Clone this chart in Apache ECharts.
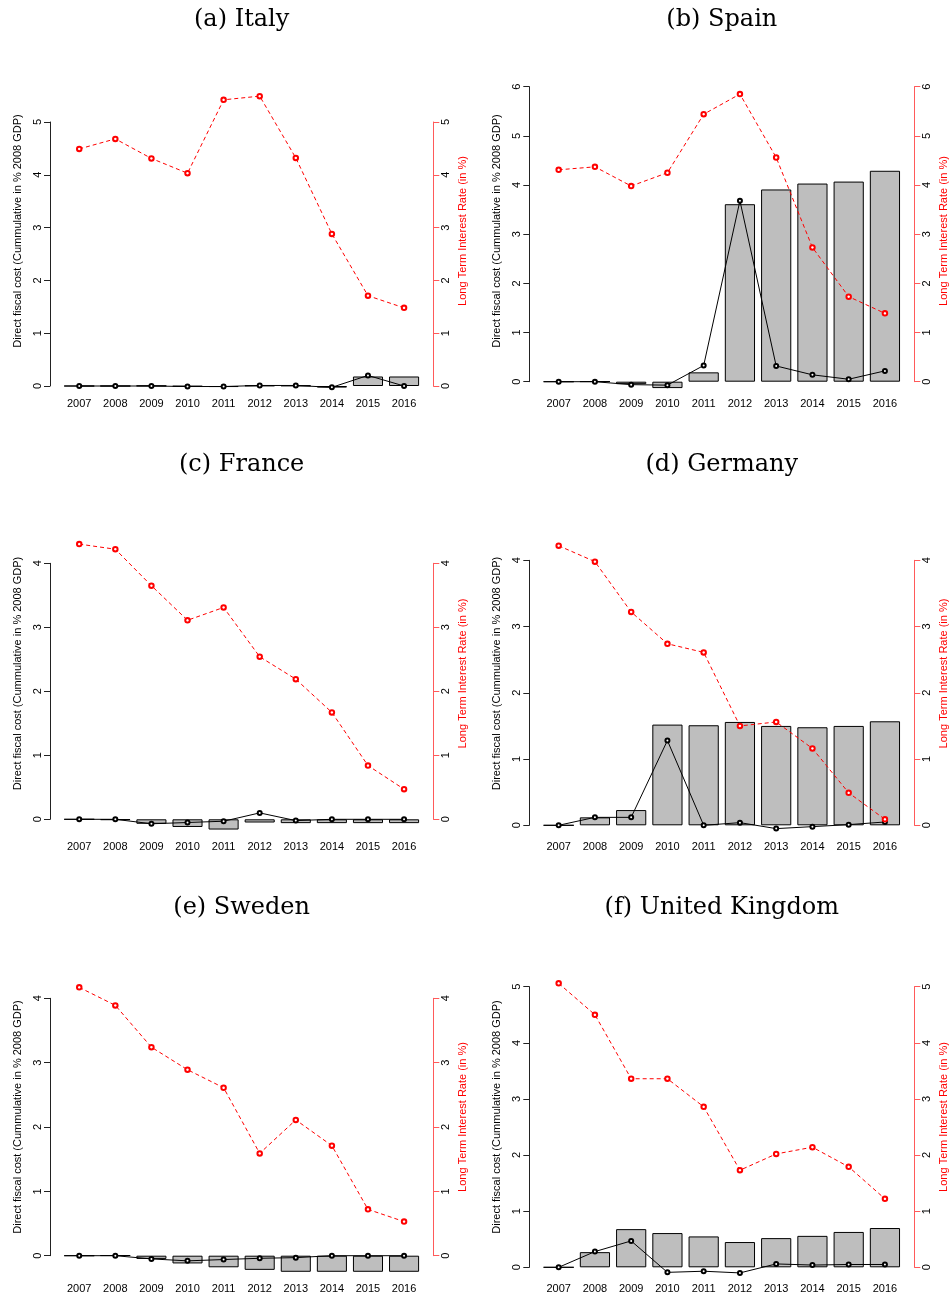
<!DOCTYPE html>
<html>
<head>
<meta charset="utf-8">
<script src="https://cdn.jsdelivr.net/npm/echarts@6/dist/echarts.min.js"></script>
<style>
  html, body { margin: 0; padding: 0; background: #ffffff; }
  #chart { width: 949px; height: 1297px; }
</style>
</head>
<body>
<div id="chart"></div>
<script>
// Years on the category axis
const years = ['2007', '2008', '2009', '2010', '2011', '2012', '2013', '2014', '2015', '2016'];

// Panel titles
const panelTitles = ['(a) Italy', '(b) Spain', '(c) France', '(d) Germany', '(e) Sweden', '(f) United Kingdom'];

// Highest tick on both vertical axes of each panel
const axisTop = [5, 6, 4, 4, 4, 5];

// Cumulative direct fiscal cost (bars), yearly cost (black line), long term rate (red line)
const italyCost   = [0, 0, 0.005, -0.01, -0.02, 0.01, 0.01, -0.03, 0.18, 0.18];
const italyFlow   = [0, 0, 0, -0.01, -0.01, 0.01, 0.01, -0.025, 0.20, 0];
const italyRate   = [4.49, 4.68, 4.31, 4.03, 5.42, 5.49, 4.32, 2.88, 1.71, 1.48];

const spainCost   = [0, 0.005, -0.05, -0.13, 0.19, 3.61, 3.91, 4.03, 4.07, 4.29];
const spainFlow   = [0, 0, -0.06, -0.07, 0.33, 3.68, 0.32, 0.14, 0.05, 0.22];
const spainRate   = [4.31, 4.37, 3.98, 4.25, 5.44, 5.85, 4.56, 2.73, 1.73, 1.39];

const franceCost  = [0, -0.01, -0.07, -0.12, -0.16, -0.05, -0.06, -0.06, -0.06, -0.06];
const franceFlow  = [0, 0, -0.07, -0.05, -0.03, 0.10, -0.02, 0, 0, 0];
const franceRate  = [4.30, 4.22, 3.65, 3.11, 3.31, 2.54, 2.19, 1.67, 0.84, 0.47];

const germanyCost = [0, 0.12, 0.23, 1.52, 1.51, 1.56, 1.50, 1.48, 1.50, 1.57];
const germanyFlow = [0, 0.12, 0.12, 1.28, 0, 0.04, -0.05, -0.02, 0.01, 0.05];
const germanyRate = [4.22, 3.98, 3.22, 2.74, 2.61, 1.50, 1.56, 1.16, 0.49, 0.09];

const swedenCost  = [0, 0.005, -0.05, -0.12, -0.18, -0.22, -0.25, -0.25, -0.25, -0.25];
const swedenFlow  = [0, 0, -0.05, -0.08, -0.06, -0.04, -0.03, 0, 0, 0];
const swedenRate  = [4.17, 3.89, 3.24, 2.89, 2.61, 1.59, 2.11, 1.71, 0.72, 0.53];

const ukCost      = [0, 0.27, 0.68, 0.61, 0.55, 0.45, 0.52, 0.56, 0.63, 0.70];
const ukFlow      = [0, 0.28, 0.47, -0.09, -0.07, -0.10, 0.06, 0.04, 0.05, 0.05];
const ukRate      = [5.06, 4.50, 3.36, 3.36, 2.86, 1.73, 2.02, 2.14, 1.79, 1.22];

const costSeries = [italyCost, spainCost, franceCost, germanyCost, swedenCost, ukCost];
const flowSeries = [italyFlow, spainFlow, franceFlow, germanyFlow, swedenFlow, ukFlow];
const rateSeries = [italyRate, spainRate, franceRate, germanyRate, swedenRate, ukRate];

// ---- layout ----
const SANS = '"Liberation Sans", Arial, Helvetica, sans-serif';
const SERIF = '"DejaVu Serif", serif';
const leftTitle = 'Direct fiscal cost (Cummulative in % 2008 GDP)';
const rightTitle = 'Long Term Interest Rate (in %)';

// x of the left and right axis lines, per column
const colAxes = [[50, 433.3], [529.3, 914.3]];
// y of the zero tick and the top tick, per panel
const zeroY = [386, 381.7, 819.3, 825.3, 1255.7, 1267.3];
const topY  = [122, 86.7, 563.3, 560.3, 998.3, 986.7];
// centre line of the year labels, per panel
const yearLabelY = [405, 405, 848, 848, 1290, 1290];
// rows: title centre and vertical centre of the axis titles
const rowTitleY = [20, 465, 908];
const rowMidY = [231, 673.5, 1117];

const grids = [], xAxes = [], yAxes = [], series = [], graphics = [];

for (let i = 0; i < 6; i++) {
  const col = i % 2, row = Math.floor(i / 2);
  const [axL, axR] = colAxes[col];
  const span = axR - axL;
  const pitch = span / 10.62;          // bar pitch inside the plotting region
  const gridW = pitch * 10;
  const off = (span - gridW) / 2;

  grids.push({
    left: axL + off, top: topY[i], width: gridW, height: zeroY[i] - topY[i],
    containLabel: false
  });

  xAxes.push({
    type: 'category', gridIndex: i, data: years, boundaryGap: true,
    axisLine: { show: false }, axisTick: { show: false }, splitLine: { show: false },
    axisLabel: {
      margin: yearLabelY[i] - zeroY[i] - 6.5, fontSize: 11, color: '#000', fontFamily: SANS,
      interval: 0
    }
  });

  const axisCommon = {
    type: 'value', gridIndex: i, min: 0, max: axisTop[i], interval: 1,
    splitLine: { show: false },
    axisLabel: { rotate: 90, margin: 7, fontSize: 11, color: '#000', fontFamily: SANS }
  };
  yAxes.push(Object.assign({}, axisCommon, {
    position: 'left', offset: off,
    axisLine: { show: true, lineStyle: { color: '#222', width: 1 } },
    axisTick: { show: true, length: 6, lineStyle: { color: '#222', width: 1 } }
  }));
  yAxes.push(Object.assign({}, axisCommon, {
    position: 'right', offset: off,
    axisLine: { show: true, lineStyle: { color: '#ff5a5a', width: 1 } },
    axisTick: { show: true, length: 6, lineStyle: { color: '#ff5a5a', width: 1 } }
  }));

  series.push({
    type: 'bar', xAxisIndex: i, yAxisIndex: 2 * i, data: costSeries[i],
    barWidth: '83.3%', clip: false, silent: true,
    itemStyle: { color: '#bebebe', borderColor: '#000', borderWidth: 1 }
  });
  series.push({
    type: 'line', xAxisIndex: i, yAxisIndex: 2 * i, data: flowSeries[i],
    clip: false, silent: true, symbol: 'emptyCircle', symbolSize: 4,
    lineStyle: { color: '#000', width: 1 },
    itemStyle: { color: '#000', borderColor: '#000', borderWidth: 1 }
  });
  series.push({
    type: 'line', xAxisIndex: i, yAxisIndex: 2 * i + 1, data: rateSeries[i],
    clip: false, silent: true, symbol: 'emptyCircle', symbolSize: 4.5,
    lineStyle: { color: '#ff0000', width: 1, type: [4, 3] },
    itemStyle: { color: '#ff0000', borderColor: '#ff0000', borderWidth: 0.9 }
  });

  const midX = (axL + axR) / 2;
  graphics.push({
    type: 'text', x: midX, y: rowTitleY[row], silent: true,
    style: {
      text: panelTitles[i], fill: '#000', font: '24px ' + SERIF,
      textAlign: 'center', textVerticalAlign: 'middle', align: 'center', verticalAlign: 'middle'
    }
  });
  graphics.push({
    type: 'text', x: axL - 32, y: rowMidY[row], rotation: Math.PI / 2, silent: true,
    style: {
      text: leftTitle, fill: '#000', font: '11px ' + SANS,
      textAlign: 'center', textVerticalAlign: 'middle', align: 'center', verticalAlign: 'middle'
    }
  });
  graphics.push({
    type: 'text', x: axR + 30, y: rowMidY[row], rotation: Math.PI / 2, silent: true,
    style: {
      text: rightTitle, fill: '#ff0000', font: '11px ' + SANS,
      textAlign: 'center', textVerticalAlign: 'middle', align: 'center', verticalAlign: 'middle'
    }
  });
}

const chart = echarts.init(document.getElementById('chart'), null, { renderer: 'canvas' });
chart.setOption({
  animation: false,
  backgroundColor: '#ffffff',
  grid: grids,
  xAxis: xAxes,
  yAxis: yAxes,
  series: series,
  graphic: graphics
});
</script>
</body>
</html>
